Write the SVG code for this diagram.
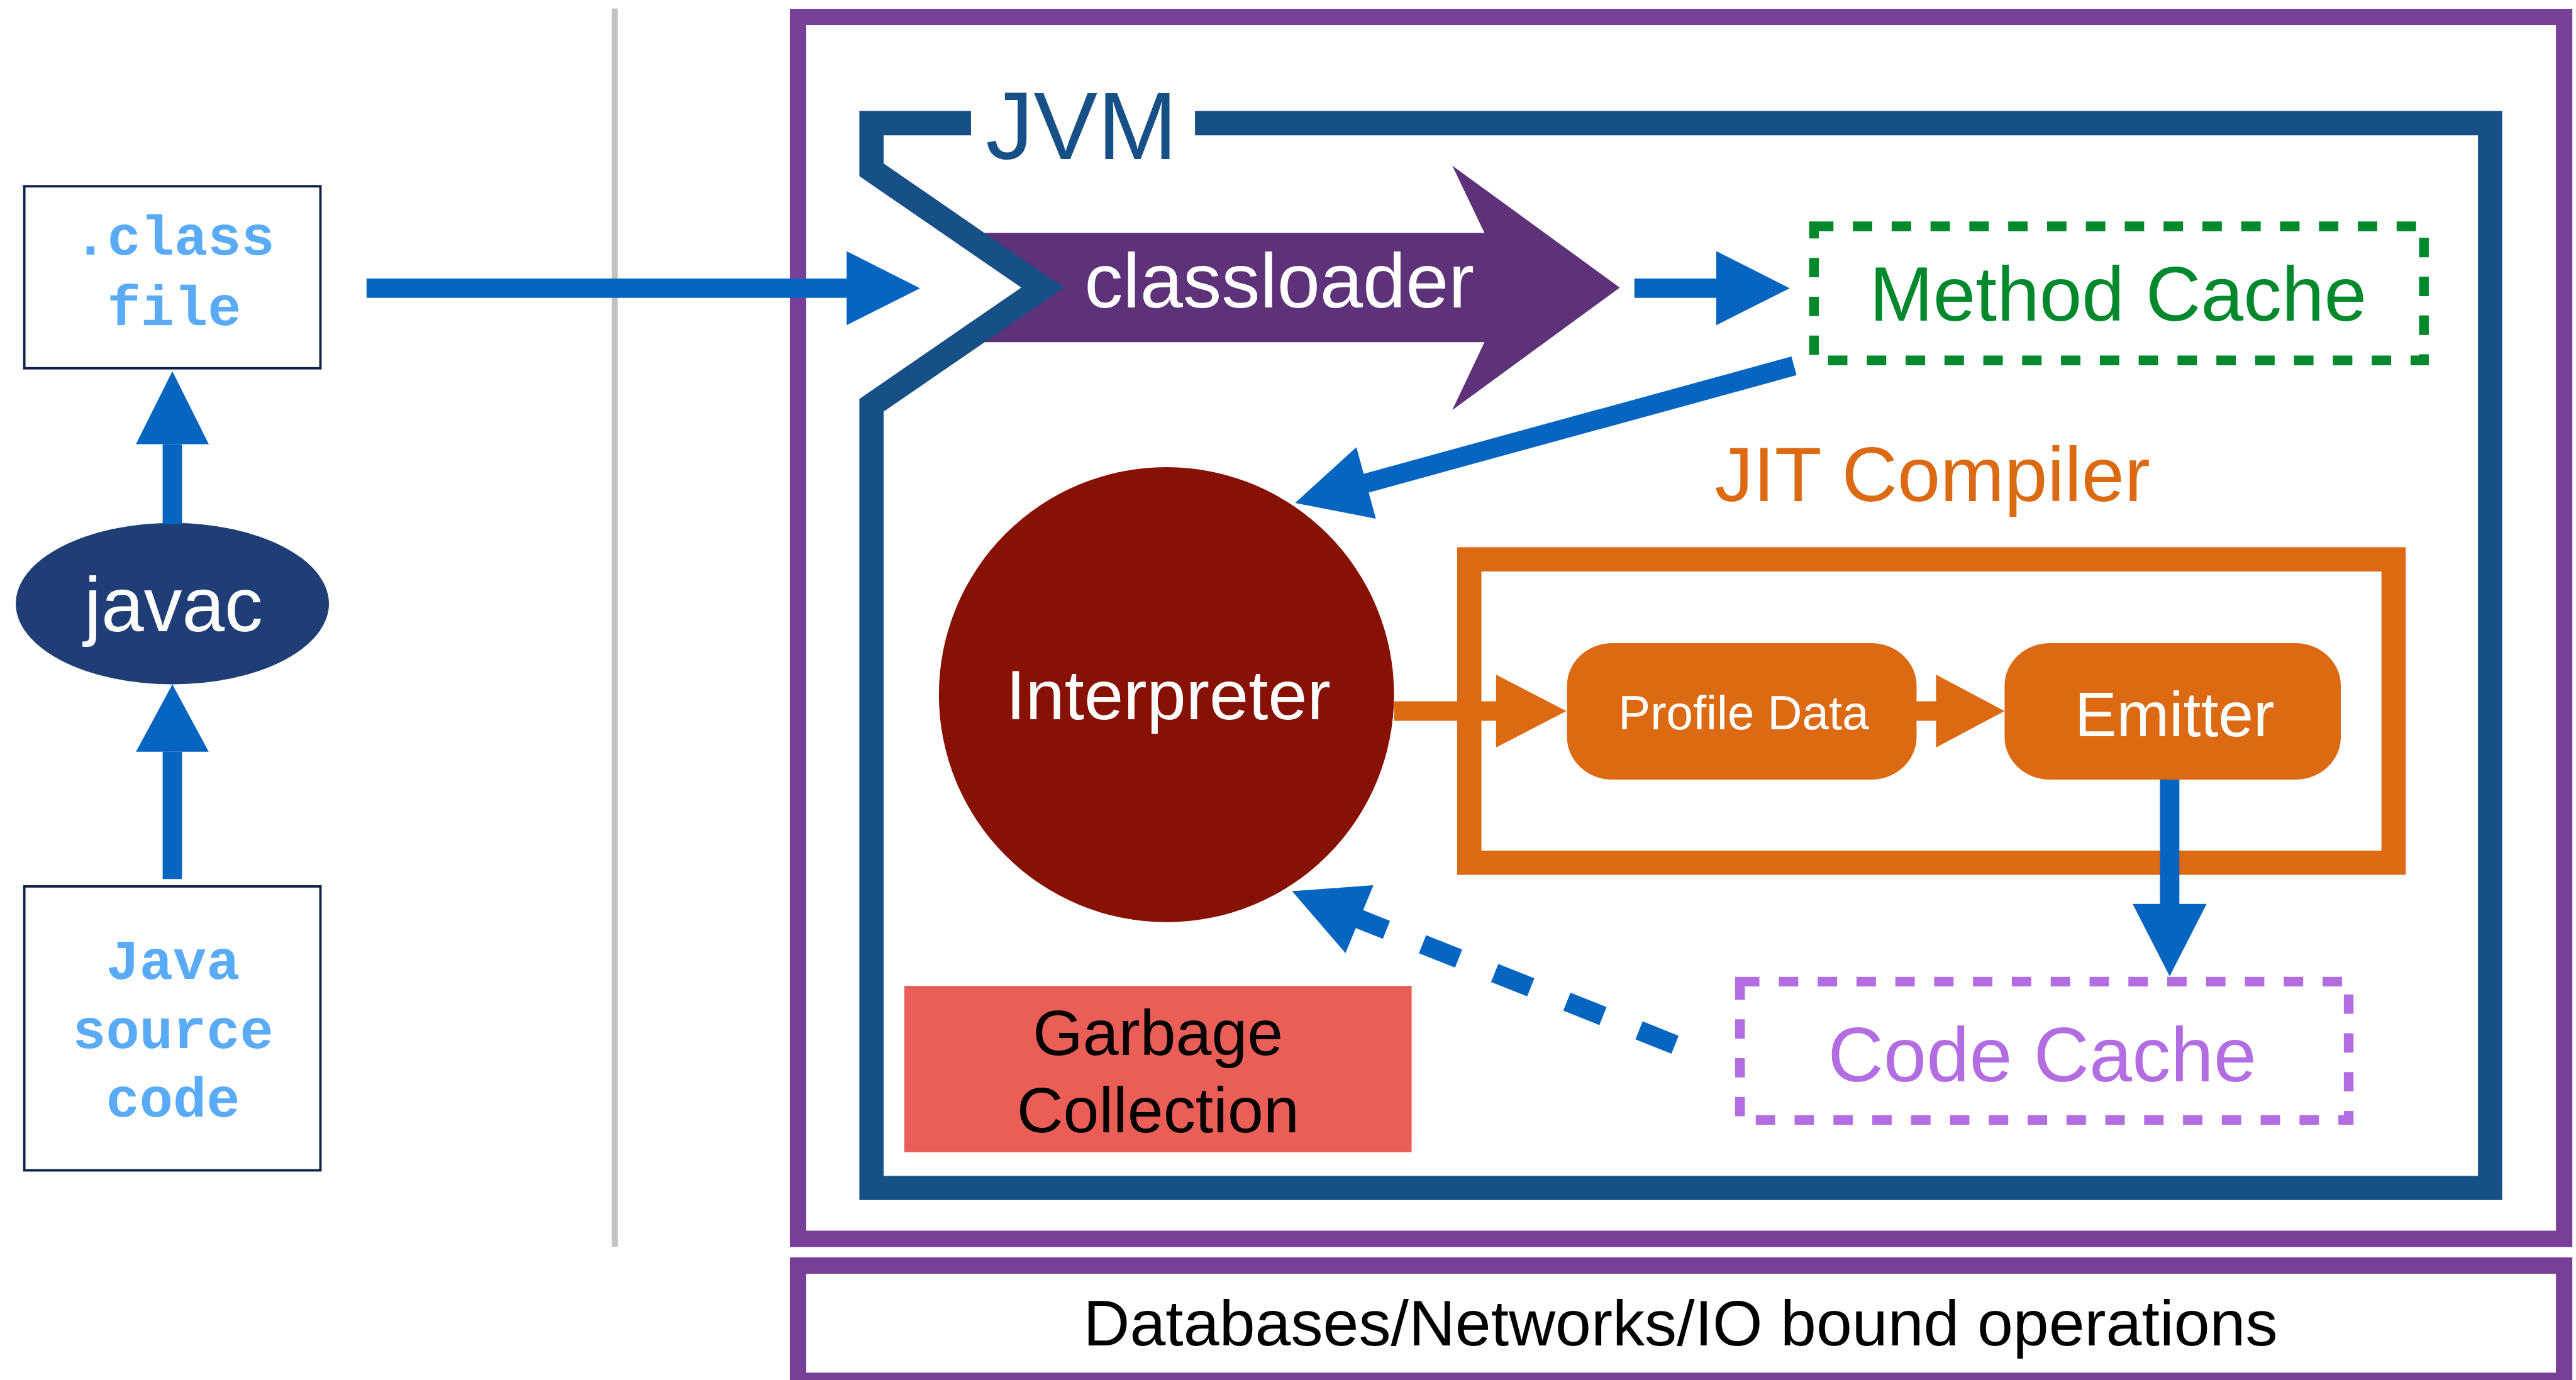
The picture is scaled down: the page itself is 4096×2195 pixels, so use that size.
<svg xmlns="http://www.w3.org/2000/svg" width="4096" height="2195" viewBox="0 0 4096 2195">
<style>
.sans{font-family:"Liberation Sans",Arial,sans-serif}
.mono{font-family:"Liberation Mono","Courier New",monospace;font-weight:bold;font-size:92px;fill:#5aabf7}
.src{fill:#fff;stroke:#0d2245;stroke-width:4}
.blue{stroke:#0565c0;stroke-width:32;fill:none}
.bluef{fill:#0565c0}
.orange{stroke:#dc6a12;stroke-width:32;fill:none}
.orangef{fill:#dc6a12}
</style>
<rect width="4096" height="2195" fill="#fff"/>
<g transform="scale(0.965)">
  <!-- separator -->
  <line x1="1013" y1="14" x2="1013" y2="2055" stroke="#c3c3c3" stroke-width="10"/>

  <g id="runtime-box">
    <rect x="1315" y="28" width="2910" height="2014" fill="none" stroke="#783f99" stroke-width="27"/>
  </g>
  <g id="io-box">
    <rect x="1315" y="2086" width="2910" height="190" fill="#fff" stroke="#783f99" stroke-width="27"/>
    <text x="2769" y="2218" class="sans" font-size="106" text-anchor="middle" fill="#000">Databases/Networks/IO bound operations</text>
  </g>

  <g id="classfile">
    <rect x="40" y="307" width="488" height="300" class="src"/>
    <text x="287" y="420" class="mono" text-anchor="middle">.class</text>
    <text x="287" y="536" class="mono" text-anchor="middle">file</text>
  </g>
  <g id="javac">
    <ellipse cx="284" cy="995" rx="258" ry="133" fill="#203e76"/>
    <text x="286" y="1040" class="sans" font-size="126" text-anchor="middle" fill="#fff">javac</text>
  </g>
  <g id="source">
    <rect x="40" y="1461" width="488" height="468" class="src"/>
    <text x="285" y="1613" class="mono" text-anchor="middle">Java</text>
    <text x="285" y="1727" class="mono" text-anchor="middle">source</text>
    <text x="285" y="1840" class="mono" text-anchor="middle">code</text>
  </g>

  <g id="classloader">
    <polygon points="1600,384 2446,384 2393,273 2669,474 2393,676 2446,564 1600,564 1720,474" fill="#5e3278"/>
    <text x="2108" y="507" class="sans" font-size="127" text-anchor="middle" fill="#fff">classloader</text>
  </g>

  <g id="jvm">
    <path d="M1600,203 H1436 V280 L1718,474 L1436,668 V1958 H4103 V203 H1969" fill="none" stroke="#175087" stroke-width="40" stroke-linejoin="miter" stroke-miterlimit="10"/>
    <text x="1782" y="262" class="sans" font-size="158" text-anchor="middle" fill="#175087">JVM</text>
  </g>

  <g id="method-cache">
    <rect x="2989" y="373" width="1005" height="221" fill="none" stroke="#00882c" stroke-width="16" stroke-dasharray="32 32"/>
    <text x="3490" y="528" class="sans" font-size="126" text-anchor="middle" fill="#00882c">Method Cache</text>
  </g>

  <g id="interpreter">
    <circle cx="1922" cy="1145" r="375" fill="#861104"/>
    <text x="1925" y="1186" class="sans" font-size="116" text-anchor="middle" fill="#fff">Interpreter</text>
  </g>

  <g id="jit-compiler">
    <rect x="2421" y="922" width="1523" height="500" fill="none" stroke="#dc6a12" stroke-width="40"/>
    <text x="3184" y="826" class="sans" font-size="127" text-anchor="middle" fill="#dc6a12">JIT Compiler</text>
  </g>

  <g id="profile-data">
    <rect x="2582" y="1060" width="576" height="225" rx="75" ry="70" fill="#dc6a12"/>
    <text x="2873" y="1202" class="sans" font-size="79" text-anchor="middle" fill="#fff">Profile Data</text>
  </g>

  <g id="emitter">
    <rect x="3303" y="1060" width="554" height="225" rx="75" ry="70" fill="#dc6a12"/>
    <text x="3583" y="1213" class="sans" font-size="104" text-anchor="middle" fill="#fff">Emitter</text>
  </g>

  <g id="code-cache">
    <rect x="2867" y="1618" width="1003" height="228" fill="none" stroke="#b36de2" stroke-width="16" stroke-dasharray="32 32"/>
    <text x="3365" y="1782" class="sans" font-size="127" text-anchor="middle" fill="#b36de2">Code Cache</text>
  </g>

  <g id="garbage-collection">
    <rect x="1490" y="1625" width="836" height="274" fill="#eb5e57"/>
    <text x="1908" y="1739" class="sans" font-size="106" text-anchor="middle" fill="#000">Garbage</text>
    <text x="1908" y="1866" class="sans" font-size="106" text-anchor="middle" fill="#000">Collection</text>
  </g>

  <g id="connectors">
    <line x1="284" y1="732" x2="284" y2="864" class="blue"/>
    <polygon points="224,732 344,732 284,612" class="bluef"/>
    <line x1="284" y1="1239" x2="284" y2="1449" class="blue"/>
    <polygon points="224,1239 344,1239 284,1128" class="bluef"/>

    <line x1="604" y1="475" x2="1396" y2="475" class="blue"/>
    <polygon points="1395,414 1395,536 1516,475" class="bluef"/>

    <line x1="2693" y1="475" x2="2829" y2="475" class="blue"/>
    <polygon points="2828,414 2828,536 2949,475" class="bluef"/>

    <line x1="2956" y1="603" x2="2249" y2="797" class="blue"/>
    <polygon points="2134,829 2235,737 2267,855" class="bluef"/>

    <line x1="2297" y1="1172" x2="2466" y2="1172" class="orange"/>
    <polygon points="2465,1112 2465,1232 2581,1172" class="orangef"/>
    <line x1="3150" y1="1172" x2="3191" y2="1172" class="orange"/>
    <polygon points="3190,1112 3190,1232 3303,1172" class="orangef"/>

    <line x1="3575" y1="1285" x2="3575" y2="1491" class="blue"/>
    <polygon points="3514,1490 3636,1490 3575,1609" class="bluef"/>

    <line x1="2225" y1="1509" x2="2760" y2="1722" class="blue" stroke-dasharray="64 64"/>
    <polygon points="2129,1469 2263,1459 2217,1571" class="bluef"/>
  </g>
</g>
</svg>
